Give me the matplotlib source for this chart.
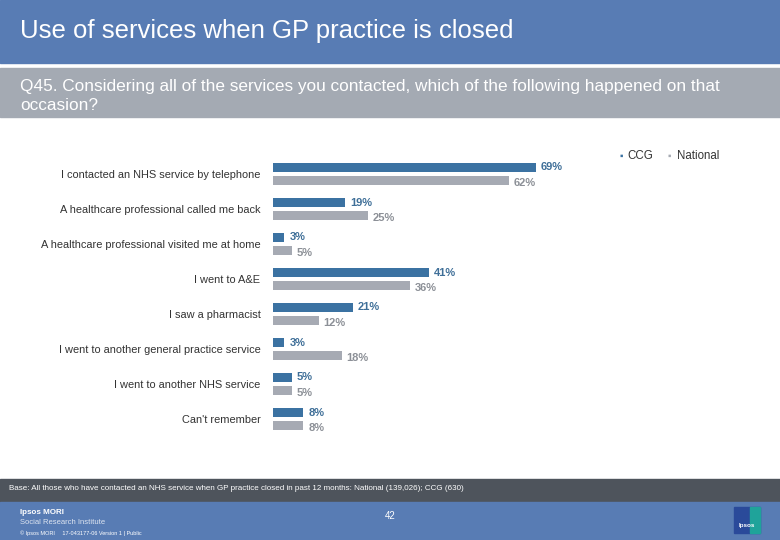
import matplotlib
matplotlib.use("Agg")
import matplotlib.pyplot as plt
from matplotlib.patches import Rectangle
import numpy as np

plt.rcParams['font.family'] = ['Liberation Sans', 'DejaVu Sans']

# data
categories = [
    "I contacted an NHS service by telephone",
    "A healthcare professional called me back",
    "A healthcare professional visited me at home",
    "I went to A&E",
    "I saw a pharmacist",
    "I went to another general practice service",
    "I went to another NHS service",
    "Can't remember",
]
ccg = [69, 19, 3, 41, 21, 3, 5, 8]
national = [62, 25, 5, 36, 12, 18, 5, 8]
series_names = ["CCG", "National"]

W, H = 780, 540
BLUE_BAND = "#587cb4"
GREY_BAND = "#a4aab3"
DARK_BAND = "#4e545c"
CCG_COL = "#3b72a2"
NAT_COL = "#a6aab3"
CCG_TXT = "#3f6f98"
NAT_TXT = "#8c9097"

fig = plt.figure(figsize=(W / 100, H / 100), dpi=100)
fig.patch.set_facecolor("white")

def band(y0, y1, color):
    # y in pixels from the top
    fig.patches.append(Rectangle((0, 1 - y1 / H), 1, (y1 - y0) / H,
                                 transform=fig.transFigure, color=color, zorder=0))

band(0, 63, BLUE_BAND)
band(68, 117, GREY_BAND)
band(479, 502, DARK_BAND)
band(502, 540, BLUE_BAND)

fig.text(20 / W, 1 - 31 / H, "Use of services when GP practice is closed",
         color="white", fontsize=18.5, va="center", ha="left")
fig.text(20 / W, 1 - 86 / H,
         "Q45. Considering all of the services you contacted, which of the following happened on that",
         color="white", fontsize=12.4, va="center", ha="left")
fig.text(20 / W, 1 - 105 / H, "occasion?", color="white", fontsize=12.4, va="center", ha="left")

# chart axes: x from 273px, 3.81 px per percent; groups 35 px apart
ax_left, ax_right = 273, 620
ax_top, ax_bot = 156.5, 436.5
ax = fig.add_axes([ax_left / W, 1 - ax_bot / H, (ax_right - ax_left) / W, (ax_bot - ax_top) / H])
ax.set_xlim(0, (ax_right - ax_left) / 3.81)
ax.set_ylim(len(categories) - 0.5, -0.5)
ax.axis("off")

y = np.arange(len(categories))
bh = 9 / 35
off_c = -6.5 / 35
off_n = 6.5 / 35
ax.barh(y + off_c, ccg, height=bh, color=CCG_COL)
ax.barh(y + off_n, national, height=bh, color=NAT_COL)

for i in range(len(categories)):
    ax.annotate(f"{ccg[i]}%", (ccg[i], y[i] + off_c), xytext=(3.5, 0), textcoords="offset points",
                va="center", ha="left", fontsize=8, fontweight="bold", color=CCG_TXT)
    ax.annotate(f"{national[i]}%", (national[i], y[i] + off_n), xytext=(3.5, -1.5), textcoords="offset points",
                va="center", ha="left", fontsize=8, fontweight="bold", color=NAT_TXT)
    ax.annotate(categories[i], (0, y[i]), xytext=(-9, -0.5), textcoords="offset points",
                va="center", ha="right", fontsize=7.9, color="#333333")

# legend
fig.text(620 / W, 1 - 156 / H, "▪", color=CCG_COL, fontsize=7, va="center", ha="left")
fig.text(627 / W, 1 - 156 / H, series_names[0], color="#333333", fontsize=8.3, va="center", ha="left")
fig.text(668 / W, 1 - 156 / H, "▪", color=NAT_COL, fontsize=7, va="center", ha="left")
fig.text(677 / W, 1 - 156 / H, series_names[1], color="#333333", fontsize=8.3, va="center", ha="left")

# footer
fig.text(9 / W, 1 - 488 / H,
         "Base: All those who have contacted an NHS service when GP practice closed in past 12 months: National (139,026); CCG (630)",
         color="white", fontsize=5.8, va="center", ha="left")
fig.text(20 / W, 1 - 512 / H, "Ipsos MORI", color="white", fontsize=5.8, fontweight="bold",
         va="center", ha="left")
fig.text(20 / W, 1 - 522 / H, "Social Research Institute", color="#dde4f0", fontsize=5.5, va="center", ha="left")
fig.text(20 / W, 1 - 533 / H, "© Ipsos MORI     17-043177-06 Version 1 | Public", color="white",
         fontsize=4, va="center", ha="left")
fig.text(390 / W, 1 - 516 / H, "42", color="white", fontsize=7, va="center", ha="center")
fig.patches.append(Rectangle((734 / W, 1 - 533 / H), 26 / W, 26 / H, transform=fig.transFigure,
                             color="#2a4a9a", zorder=1))
fig.patches.append(Rectangle((750 / W, 1 - 533 / H), 10 / W, 26 / H, transform=fig.transFigure,
                             color="#1fa39a", zorder=1))
fig.text(747 / W, 1 - 525 / H, "Ipsos", color="white", fontsize=4.5, fontweight="bold",
         va="center", ha="center", zorder=2)

fig.savefig("out.png", dpi=100)
